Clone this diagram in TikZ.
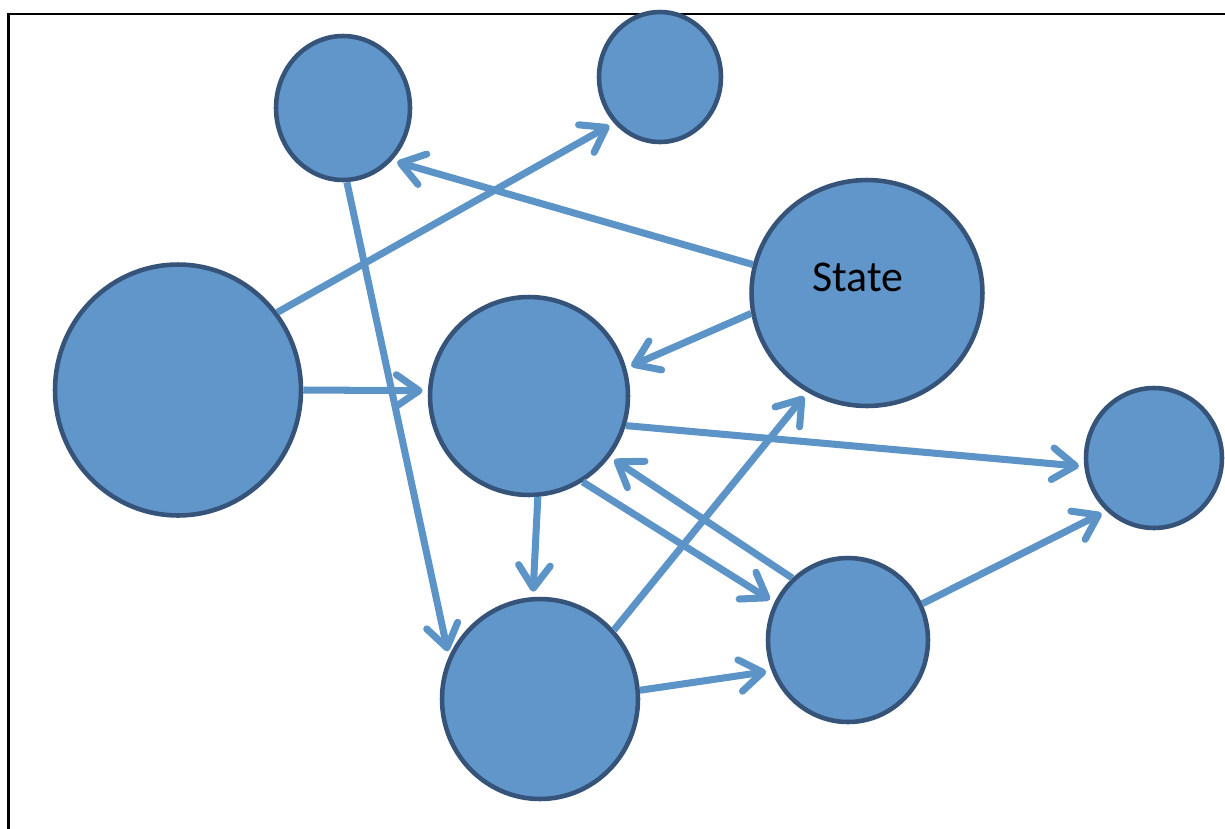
\documentclass[tikz,border=0pt]{standalone}
\usepackage{fontspec}
\setmainfont{Carlito}
\usetikzlibrary{arrows.meta,shapes.geometric}
\definecolor{nodefill}{RGB}{97,150,202}
\definecolor{nodeline}{RGB}{54,84,122}
\definecolor{arcblue}{RGB}{92,148,200}
\tikzset{
	state/.style={
		ellipse,
		line width=2.6pt,
		draw=nodeline,
		fill=nodefill,
		inner sep=0pt,
	},
	arc/.style={
		-{Straight Barb[length=13pt,width=18pt,round]},
		line width=4pt,
		draw=arcblue,
		shorten >=3pt,
	},
	frame/.style={
		line width=1.7pt,
		draw=black,
	}
}
\begin{document}
\begin{tikzpicture}[x=0.02cm,y=-0.02cm]
	\useasboundingbox (0,0) rectangle (1225,829);
	\draw[frame] (8.7,829) -- (8.7,14) -- (1225,14);

	\node [state,minimum width=2.68cm,minimum height=2.88cm] (a) at (343,108) {};
	\node [state,minimum width=2.44cm,minimum height=2.60cm] (b) at (660,77) {};
	\node [state,minimum width=4.92cm,minimum height=5.02cm] (c) at (178,390) {};
	\node [state,minimum width=3.96cm,minimum height=3.96cm] (d) at (529,396) {};
	\node [state,minimum width=4.62cm,minimum height=4.52cm] (s) at (867,293) {};
	\node [font=\fontsize{25}{30}\selectfont] (slabel) at (858,277) {State};
	\node [state,minimum width=2.72cm,minimum height=2.80cm] (e) at (1154,458) {};
	\node [state,minimum width=3.20cm,minimum height=3.28cm] (f) at (848,640) {};
	\node [state,minimum width=3.92cm,minimum height=4.00cm] (g) at (540,699) {};

	\draw[arc] (c.38) -- (b.-135);
	\draw[arc] (a.-87) -- (g.155);
	\draw[arc] (s.166) -- (a.-47);
	\draw[arc] (c.0) -- (d.177);
	\draw[arc] (s.-170) -- (d.16);
	\draw[arc] (d.-17) -- (e.-173);
	\draw[arc] (d.-85) -- (g.94);
	\draw[arc] (d.-58) -- (f.153);
	\draw[arc] (f.132) -- (d.-37);
	\draw[arc] (g.43) -- (s.-121);
	\draw[arc] (g.5) -- (f.-158);
	\draw[arc] (f.26) -- (e.-132);
\end{tikzpicture}
\end{document}
